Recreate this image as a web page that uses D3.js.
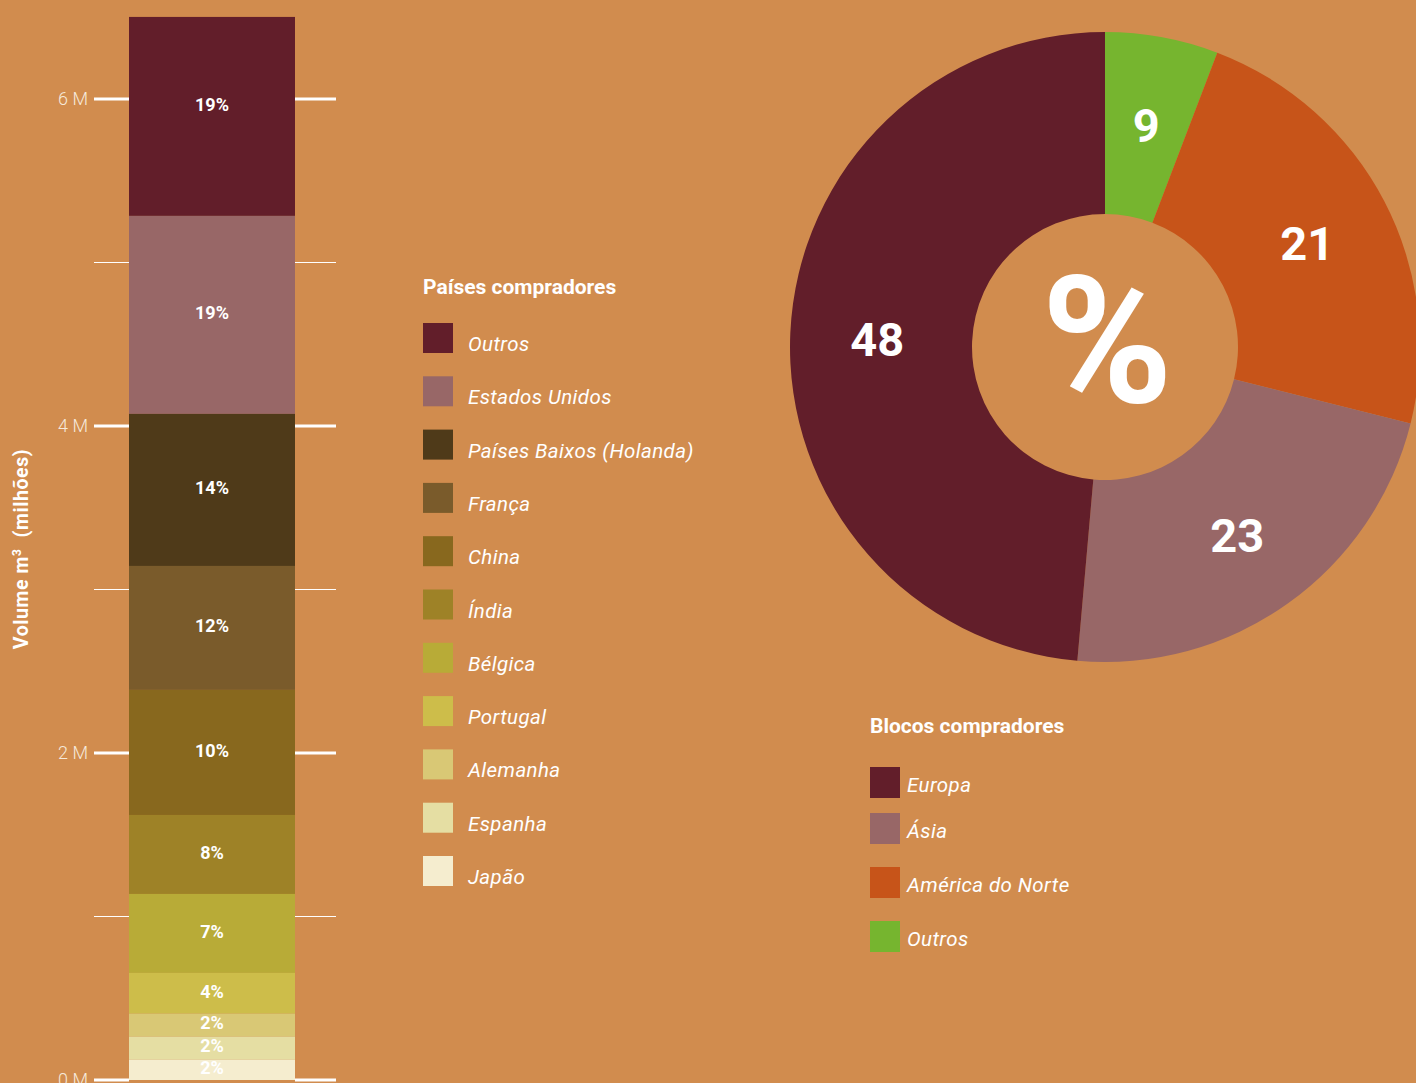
<!DOCTYPE html>
<html lang="pt">
<head>
  <meta charset="UTF-8">
  <title>Países e blocos compradores</title>
  <script src="https://d3js.org/d3.v7.min.js"></script>
  <style>
    body { margin: 0; background: #d18c4e; }
    svg { display: block; font-family: Roboto, "DejaVu Sans", sans-serif; }
    .tick-label { font-size: 18px; font-weight: 300; fill: #f6e9da; }
    .seg-label { font-size: 18px; font-weight: 700; fill: #fff; }
    .leg-title { font-size: 21px; font-weight: 700; fill: #fff; }
    .leg-item { font-size: 20.5px; font-style: italic; fill: #fff; letter-spacing: 0.4px; }
    .slice-label { font-size: 47px; font-weight: 700; fill: #fff; }
  </style>
</head>
<body>
  <svg width="1416" height="1083"></svg>

  <script>
    const width = 1416;
    const height = 1083;

    // países compradores (de cima para baixo no gráfico)
    const countries = ["Outros", "Estados Unidos", "Países Baixos (Holanda)", "França", "China",
                       "Índia", "Bélgica", "Portugal", "Alemanha", "Espanha", "Japão"];
    const volumes = [1.217, 1.211, 0.93, 0.758, 0.765, 0.483, 0.483, 0.249, 0.141, 0.141, 0.124]; // milhões m³
    const shares = ["19%", "19%", "14%", "12%", "10%", "8%", "7%", "4%", "2%", "2%", "2%"];
    const countryColors = ["#621e2a", "#986767", "#4f3a19", "#7a5b2b", "#88681e",
                           "#9e8227", "#b8ab37", "#cdbd4a", "#d9c875", "#e5dea3", "#f5edcf"];

    const yTicks = [0, 1, 2, 3, 4, 5, 6];
    const yTickLabels = ["0 M", "", "2 M", "", "4 M", "", "6 M"];

    // blocos compradores
    const blocks = ["Outros", "América do Norte", "Ásia", "Europa"];
    const blockShares = [5.8, 23.1, 22.5, 48.6];   // medido no desenho
    const blockLabels = ["9", "21", "23", "48"];   // texto impresso
    const blockColors = ["#76b52f", "#c75419", "#986767", "#621e2a"];
    const legendBlocks = ["Europa", "Ásia", "América do Norte", "Outros"];

    const svg = d3.select("svg").attr("width", width).attr("height", height);

    // ---- barra empilhada ----
    const y = d3.scaleLinear().domain([0, 6]).range([1080, 99]);
    const barX = 129, barW = 166;

    const stacked = [];
    let acc = 0;
    for (let i = countries.length - 1; i >= 0; i--) {
      stacked[i] = { y0: acc, y1: acc + volumes[i] };
      acc += volumes[i];
    }

    const bar = svg.append("g");
    bar.selectAll("rect")
      .data(countries)
      .join("rect")
      .attr("x", barX)
      .attr("width", barW)
      .attr("y", (d, i) => y(stacked[i].y1))
      .attr("height", (d, i) => y(stacked[i].y0) - y(stacked[i].y1))
      .attr("fill", (d, i) => countryColors[i]);

    bar.selectAll("text")
      .data(shares)
      .join("text")
      .attr("class", "seg-label")
      .attr("x", barX + barW / 2)
      // o rótulo do topo fica um pouco acima do centro
      .attr("y", (d, i) => (y(stacked[i].y0) + y(stacked[i].y1)) / 2 - (i === 0 ? 12 : 2))
      .attr("dy", "0.35em")
      .attr("text-anchor", "middle")
      .text(d => d);

    // traços do eixo dos dois lados
    const ticks = svg.append("g");
    [[94, barX], [barX + barW, 336]].forEach(([x1, x2]) => {
      ticks.append("g").selectAll("line")
        .data(yTicks)
        .join("line")
        .attr("x1", x1).attr("x2", x2)
        .attr("y1", d => y(d)).attr("y2", d => y(d))
        .attr("stroke", "#fff")
        .attr("stroke-width", d => d % 2 === 0 ? 3 : 1.2);
    });

    ticks.selectAll("text")
      .data(yTicks)
      .join("text")
      .attr("class", "tick-label")
      .attr("x", 88)
      .attr("y", d => y(d))
      .attr("dy", "0.35em")
      .attr("text-anchor", "end")
      .text((d, i) => yTickLabels[i]);

    const axisTitle = svg.append("text")
      .attr("transform", "translate(28, 549) rotate(-90)")
      .attr("text-anchor", "middle")
      .attr("font-size", 19.5)
      .attr("font-weight", 700)
      .attr("letter-spacing", 0.6)
      .attr("fill", "#fff");
    axisTitle.append("tspan").text("Volume m");
    axisTitle.append("tspan").attr("font-size", 12).attr("dy", -7).text("3");
    axisTitle.append("tspan").attr("dy", 7).text("\u00a0\u00a0(milhões)");

    // ---- legenda países ----
    const leg1 = svg.append("g").attr("transform", "translate(423, 0)");
    leg1.append("text").attr("class", "leg-title").attr("x", 0).attr("y", 294).text("Países compradores");
    const rowY = d3.scalePoint().domain(countries).range([323, 856]);
    const rows1 = leg1.selectAll("g.row").data(countries).join("g").attr("class", "row")
      .attr("transform", d => `translate(0, ${rowY(d)})`);
    rows1.append("rect").attr("width", 30).attr("height", 30).attr("fill", (d, i) => countryColors[i]);
    rows1.append("text").attr("class", "leg-item").attr("x", 45).attr("y", 28).text(d => d);

    // ---- rosca ----
    const cx = 1105, cy = 347, rOuter = 315, rInner = 133;
    const pie = d3.pie().sort(null).value(d => d)(blockShares);
    const arc = d3.arc().innerRadius(rInner).outerRadius(rOuter);
    const labelArc = d3.arc().innerRadius(rInner + 4).outerRadius(rOuter + 4);
    const donut = svg.append("g").attr("transform", `translate(${cx}, ${cy})`);
    donut.selectAll("path")
      .data(pie)
      .join("path")
      .attr("d", arc)
      .attr("fill", (d, i) => blockColors[i]);
    donut.selectAll("text")
      .data(pie)
      .join("text")
      .attr("class", "slice-label")
      .attr("transform", d => `translate(${labelArc.centroid(d)})`)
      .attr("dy", "0.4em")
      .attr("text-anchor", "middle")
      .text((d, i) => blockLabels[i]);
    donut.append("text")
      .attr("x", 2).attr("y", 55)
      .attr("text-anchor", "middle")
      .attr("font-size", 178)
      .attr("font-weight", 700)
      .attr("fill", "#fff")
      .text("%");

    // ---- legenda blocos ----
    const leg2 = svg.append("g").attr("transform", "translate(870, 0)");
    leg2.append("text").attr("class", "leg-title").attr("x", 0).attr("y", 733).text("Blocos compradores");
    const blockRowY = [767, 813, 867, 921];
    const rows2 = leg2.selectAll("g.row").data(legendBlocks).join("g").attr("class", "row")
      .attr("transform", (d, i) => `translate(0, ${blockRowY[i]})`);
    rows2.append("rect").attr("width", 30).attr("height", 31)
      .attr("fill", d => blockColors[blocks.indexOf(d)]);
    rows2.append("text").attr("class", "leg-item").attr("x", 37).attr("y", 25).text(d => d);
  </script>
</body>
</html>
